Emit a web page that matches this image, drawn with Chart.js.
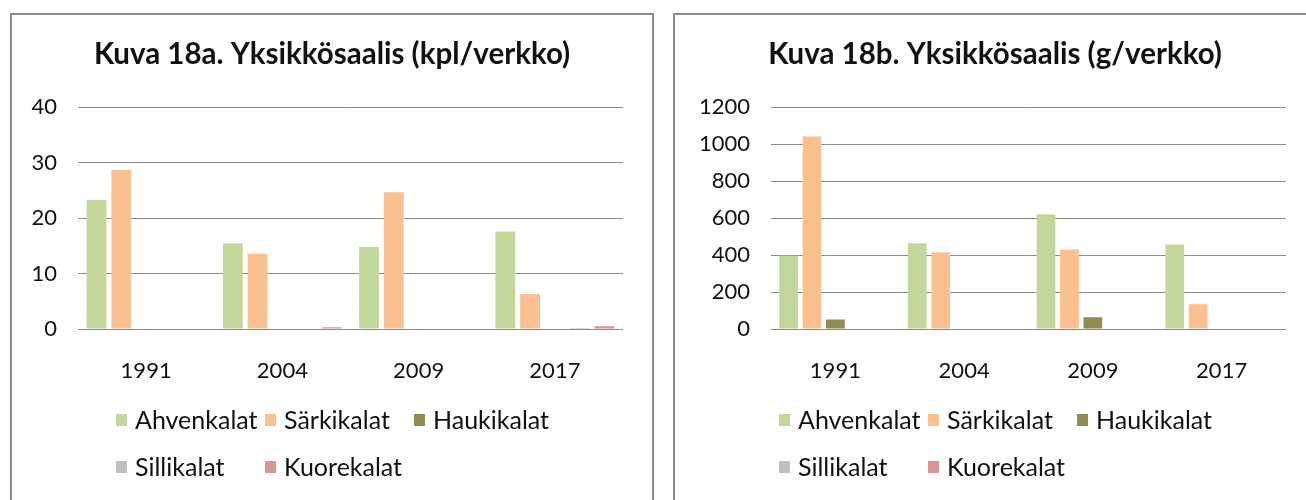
<!DOCTYPE html>
<html>
<head>
<meta charset="utf-8">
<script src="https://cdn.jsdelivr.net/npm/chart.js@4.4.1/dist/chart.umd.min.js"></script>
<style>
  html, body { margin: 0; padding: 0; background: #fff; width: 1306px; height: 500px; overflow: hidden; }
  .box { position: absolute; top: 13px; width: 640px; height: 500px; border: 2px solid #8a8a8a; border-bottom: none; }
  #boxA { left: 10px; }
  #boxB { left: 673px; }
  canvas { display: block; }
</style>
</head>
<body>
<div class="box" id="boxA"><canvas id="chartA" width="640" height="485"></canvas></div>
<div class="box" id="boxB"><canvas id="chartB" width="640" height="485"></canvas></div>
<script>
  // categories and series
  const years = ['1991', '2004', '2009', '2017'];
  const seriesNames = ['Ahvenkalat', 'Särkikalat', 'Haukikalat', 'Sillikalat', 'Kuorekalat'];
  const seriesColors = ['#c4d79b', '#fac090', '#948a54', '#bfbfbf', '#d99694'];

  // Kuva 18a, kpl/verkko
  const kplAhven = [23.3, 15.5, 14.8, 17.6];
  const kplSarki = [28.7, 13.6, 24.7, 6.3];
  const kplHauki = [0, 0, 0, 0];
  const kplSilli = [0, 0, 0, 0.2];
  const kplKuore = [0, 0.3, 0, 0.5];
  const kplTicks = [0, 10, 20, 30, 40];

  // Kuva 18b, g/verkko
  const gAhven = [397, 464, 622, 457];
  const gSarki = [1042, 415, 430, 134];
  const gHauki = [52, 0, 64, 0];
  const gSilli = [0, 0, 0, 0];
  const gKuore = [0, 0, 0, 0];
  const gTicks = [0, 200, 400, 600, 800, 1000, 1200];

  const FONT = 'Lato, "Open Sans", sans-serif';
  const TEXT = '#111';

  // legend laid out in a fixed 3-column grid like the original
  const gridLegend = {
    id: 'gridLegend',
    afterDraw(chart) {
      const ctx = chart.ctx;
      ctx.save();
      ctx.font = '25px ' + FONT;
      ctx.textBaseline = 'middle';
      chart.data.datasets.forEach((ds, i) => {
        const x = 104 + (i % 3) * 149;
        const y = 405 + Math.floor(i / 3) * 47;
        ctx.fillStyle = ds.backgroundColor;
        ctx.fillRect(x, y - 6, 11, 12);
        ctx.fillStyle = TEXT;
        ctx.fillText(ds.label, x + 19, y + 1);
      });
      ctx.restore();
    }
  };

  function makeChart(id, title, seriesData, ticks, axisWidth) {
    const ctx = document.getElementById(id).getContext('2d');
    return new Chart(ctx, {
      type: 'bar',
      data: {
        labels: years,
        datasets: seriesNames.map((name, i) => ({
          label: name,
          data: seriesData[i],
          backgroundColor: seriesColors[i],
          borderWidth: 0,
          categoryPercentage: 0.91,
          barPercentage: 0.8
        }))
      },
      options: {
        responsive: false,
        animation: false,
        devicePixelRatio: 1,
        layout: { padding: { left: 0, right: 0, top: 0, bottom: 111 } },
        plugins: {
          legend: { display: false },
          tooltip: { enabled: false },
          title: {
            display: true,
            text: title,
            color: TEXT,
            font: { family: FONT, size: 29.5, weight: 'bold' },
            padding: { top: 22, bottom: 35 }
          }
        },
        scales: {
          x: {
            grid: { display: false },
            border: { display: false },
            ticks: { color: TEXT, font: { family: FONT, size: 22 }, padding: 21 },
            afterFit: function(scale) { scale.height = 60; }
          },
          y: {
            min: ticks[0],
            max: ticks[ticks.length - 1],
            afterBuildTicks: function(scale) {
              scale.ticks = ticks.map(v => ({ value: v }));
            },
            grid: { color: '#8c8c8c', lineWidth: 1, drawTicks: false },
            border: { display: false },
            ticks: {
              color: TEXT,
              font: { family: FONT, size: 22 },
              padding: 21,
              callback: function(value) { return String(value); }
            },
            afterFit: function(scale) { scale.width = axisWidth; }
          },
          // empty right-hand axis keeps the gap at the right edge of the plot
          gap: {
            position: 'right',
            grid: { display: false },
            border: { display: false },
            ticks: { display: false },
            afterFit: function(scale) { scale.width = 29; }
          }
        }
      },
      plugins: [gridLegend]
    });
  }

  makeChart('chartA', 'Kuva 18a. Yksikkösaalis (kpl/verkko)',
    [kplAhven, kplSarki, kplHauki, kplSilli, kplKuore], kplTicks, 66);
  makeChart('chartB', 'Kuva 18b. Yksikkösaalis (g/verkko)',
    [gAhven, gSarki, gHauki, gSilli, gKuore], gTicks, 96);
</script>
</body>
</html>
